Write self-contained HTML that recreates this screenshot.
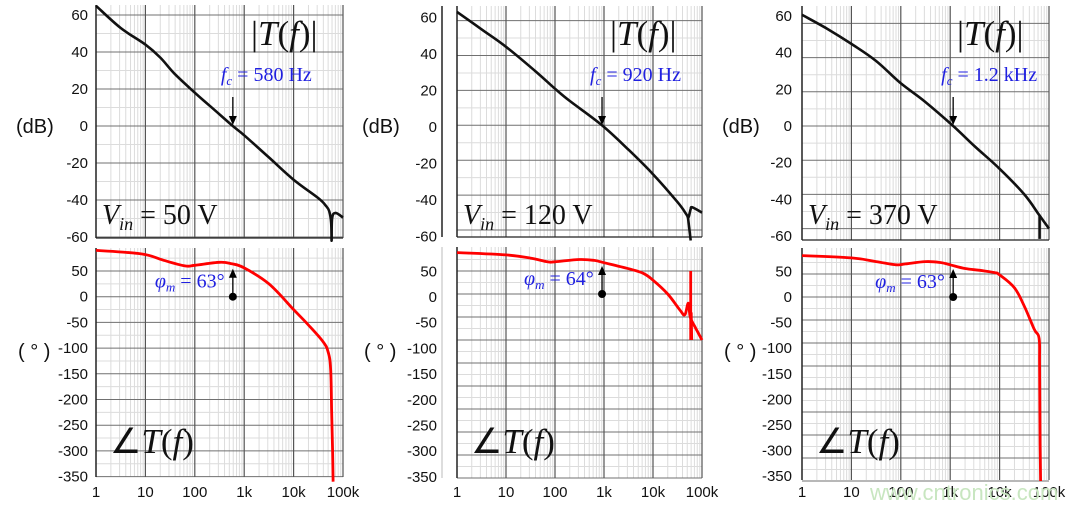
<!DOCTYPE html>
<html><head><meta charset="utf-8"><style>
html,body{margin:0;padding:0;background:#fff;}
svg{display:block;}
.ax{font-family:"Liberation Sans",sans-serif;font-size:15px;fill:#111;}
.ser{font-family:"Liberation Serif",serif;fill:#111;}
.blue{font-family:"Liberation Serif",serif;fill:#2020e0;}
</style></head><body>
<svg id="s" width="1080" height="511" xmlns="http://www.w3.org/2000/svg"></svg>
<script>
const S=document.getElementById('s');let h='';
const P=[
 {x0:96,dec:49.4,mT:5,mB:238,m0:126,m20:37,pT:248,pB:477,p0:296.7,p50:25.7,pl0:296.7,pl50:25.7,ml0:126,ml20:37,lx:88,fc:2.77,
  fcT:'580 Hz',vin:'50 V',phm:'63°',lbx:16,axis:false,
  mag:[[0,65],[0.5,53],[1,44],[1.3,37],[1.6,28],[2,18],[2.3,11],[2.77,0],[3,-5],[3.5,-17],[4,-29],[4.5,-39],[4.65,-43],[4.72,-46],[4.76,-52],[4.77,-62],[4.78,-50],[4.85,-47],[5,-49.5]],
  ph:[[0,90],[0.5,87],[1,82],[1.4,70],[1.8,60],[2,61],[2.5,67],[2.75,64],[3,56],[3.5,25],[4,-25],[4.3,-55],[4.6,-88],[4.7,-108],[4.75,-140],[4.77,-220],[4.79,-300],[4.8,-360]]},
 {x0:457,dec:49,mT:6,mB:237,m0:125.3,m20:34.9,pT:247,pB:478,p0:294,p50:23,pl0:297,pl50:25.7,ml0:127,ml20:36.5,lx:437,fc:2.96,
  fcT:'920 Hz',vin:'120 V',phm:'64°',lbx:362,axis:true,
  mag:[[0,65],[0.5,55],[1,45],[1.6,31],[2,21],[2.3,14],[2.96,0],[3.5,-14],[4,-28],[4.5,-44],[4.68,-51],[4.72,-53],[4.75,-50],[4.77,-48],[4.8,-47],[5,-50]],
  ph:[[0,90],[1,85],[1.5,78],[1.85,70],[2,70],[2.5,75],[2.8,73],[3,68],[3.5,55],[3.8,45],[4,30],[4.3,0],[4.55,-35],[4.65,-45],[4.72,-20],[4.76,-50],[4.85,-70],[5,-100]],
  extra:[[[4.71,-52],[4.77,-66]]], pextra:[[[4.77,50],[4.77,-100]],[[4.78,-40],[4.79,-100]]]},
 {x0:802,dec:49.4,mT:6,mB:240,m0:126,m20:34.2,pT:248,pB:480,p0:297,p50:23,pl0:297,pl50:25.6,ml0:126,ml20:36.7,lx:792,fc:3.06,
  fcT:'1.2 kHz',vin:'370 V',phm:'63°',lbx:722,axis:false,
  mag:[[0,65],[0.5,57],[1,48],[1.5,38],[2,25],[2.5,14],[3.06,0],[3.5,-12],[4,-25],[4.5,-40],[4.8,-52],[5,-60]],
  ph:[[0,90],[1,85],[1.5,77],[1.9,70],[2.1,72],[2.5,77],[2.8,75],[3,70],[3.3,62],[3.6,58],[3.9,53],[4,48],[4.3,20],[4.5,-20],[4.7,-70],[4.8,-90],[4.81,-150],[4.82,-320],[4.83,-400]],
  extra:[[[4.81,-52],[4.81,-66]]]}
];
const xs=['1','10','100','1k','10k','100k'];
function smooth(pts){
 let d=`M${pts[0][0].toFixed(1)},${pts[0][1].toFixed(1)}`;
 for(let i=0;i<pts.length-1;i++){
  const p0=pts[Math.max(0,i-1)],p1=pts[i],p2=pts[i+1],p3=pts[Math.min(pts.length-1,i+2)];
  const t=0.18;
  const c1=[p1[0]+(p2[0]-p0[0])*t,p1[1]+(p2[1]-p0[1])*t];
  const c2=[p2[0]-(p3[0]-p1[0])*t,p2[1]-(p3[1]-p1[1])*t];
  d+=` C${c1[0].toFixed(1)},${c1[1].toFixed(1)} ${c2[0].toFixed(1)},${c2[1].toFixed(1)} ${p2[0].toFixed(1)},${p2[1].toFixed(1)}`;
 }return d;}
P.forEach((p,i)=>{
 const X=l=>p.x0+l*p.dec, x1=X(5);
 const Ym=d=>p.m0-d/20*p.m20, Yp=d=>p.p0-d/50*p.p50;
 for(let d=0;d<5;d++)for(let k=2;k<10;k++){const x=X(d+Math.log10(k));
  h+=`<line x1="${x}" y1="${p.mT}" x2="${x}" y2="${p.mB}" stroke="#dcdcdc" stroke-width="1"/><line x1="${x}" y1="${p.pT}" x2="${x}" y2="${p.pB}" stroke="#dcdcdc" stroke-width="1"/>`;}
 for(let d=-70;d<=65;d+=10){const y=Ym(d);if(y>p.mT&&y<p.mB&&d%20)h+=`<line x1="${p.x0}" y1="${y}" x2="${x1}" y2="${y}" stroke="#dcdcdc"/>`;}
 for(let d=-375;d<=90;d+=25){const y=Yp(d);if(y>p.pT&&y<p.pB&&d%50)h+=`<line x1="${p.x0}" y1="${y}" x2="${x1}" y2="${y}" stroke="#dcdcdc"/>`;}
 for(let d=-60;d<=60;d+=20){const y=Ym(d);if(y>=p.mT&&y<=p.mB+1)h+=`<line x1="${p.x0}" y1="${y}" x2="${x1}" y2="${y}" stroke="#707070"/>`;}
 for(let d=-400;d<=50;d+=50){const y=Yp(d);if(y>=p.pT&&y<=p.pB+1)h+=`<line x1="${p.x0}" y1="${y}" x2="${x1}" y2="${y}" stroke="#707070"/>`;}
 for(let d=0;d<=5;d++){const x=X(d);h+=`<line x1="${x}" y1="${p.mT}" x2="${x}" y2="${p.mB}" stroke="${d==0?'#222':'#555'}" stroke-width="${d==0?1.5:1.2}"/><line x1="${x}" y1="${p.pT}" x2="${x}" y2="${p.pB}" stroke="${d==0?'#222':'#555'}" stroke-width="${d==0?1.5:1.2}"/>`;
  h+=`<text class="ax" x="${x}" y="497" text-anchor="middle">${xs[d]}</text>`;}
 h+=`<line x1="${p.x0}" y1="${p.mB}" x2="${x1}" y2="${p.mB}" stroke="#222" stroke-width="1.3"/>`;
 if(p.axis){const ax=p.x0-15;h+=`<line x1="${ax}" y1="${p.mT}" x2="${ax}" y2="${p.mB}" stroke="#222" stroke-width="1.5"/><line x1="${ax}" y1="${p.pT}" x2="${ax}" y2="${p.pB}" stroke="#bbb" stroke-width="1"/>`;}
 for(let d=-60;d<=60;d+=20)h+=`<text class="ax" x="${p.lx}" y="${p.ml0-d/20*p.ml20+5}" text-anchor="end">${d}</text>`;
 for(let d=-350;d<=50;d+=50)h+=`<text class="ax" x="${p.lx}" y="${p.pl0-d/50*p.pl50+5}" text-anchor="end">${d}</text>`;
 h+=`<text class="ax" x="${p.lbx}" y="133" style="font-size:20px">(dB)</text><text class="ax" x="${p.lbx+2}" y="358" style="font-size:20px">( ° )</text>`;
 const path=(pts,Y,c)=>`<path fill="none" stroke="${c}" stroke-width="${c=='#111'?2.6:2.8}" stroke-linejoin="round" d="${smooth(pts.map(q=>[X(q[0]),Y(q[1])]))}"/>`;
 h+=path(p.mag,Ym,'#111');(p.extra||[]).forEach(e=>h+=path(e,Ym,'#111'));
 h+=path(p.ph,Yp,'#f00');(p.pextra||[]).forEach(e=>h+=path(e,Yp,'#f00'));
 const fx=X(p.fc);
 h+=`<text class="ser" x="${x1-92}" y="45" style="font-size:35px">|<tspan font-style="italic">T</tspan>(<tspan font-style="italic">f</tspan>)|</text>`;
 h+=`<text class="blue" x="${fx-12}" y="81" style="font-size:20px"><tspan font-style="italic">f</tspan><tspan font-style="italic" font-size="13" dy="4">c</tspan><tspan dy="-4"> = ${p.fcT}</tspan></text>`;
 h+=`<line x1="${fx}" y1="97" x2="${fx}" y2="118" stroke="#000" stroke-width="1.3"/><polygon points="${fx-4},116 ${fx+4},116 ${fx},125" fill="#000"/>`;
 h+=`<text class="ser" x="${p.x0+6}" y="224" style="font-size:28px"><tspan font-style="italic">V</tspan><tspan font-style="italic" font-size="18" dy="6">in</tspan><tspan dy="-6"> = ${p.vin}</tspan></text>`;
 const z=Yp(0);
 h+=`<line x1="${fx}" y1="${z}" x2="${fx}" y2="${z-20}" stroke="#000" stroke-width="1.3"/><polygon points="${fx-4},${z-19} ${fx+4},${z-19} ${fx},${z-28}" fill="#000"/><circle cx="${fx}" cy="${z}" r="4" fill="#000"/>`;
 h+=`<text class="blue" x="${fx-78}" y="${z-9}" style="font-size:20px"><tspan font-style="italic">φ</tspan><tspan font-style="italic" font-size="13" dy="4">m</tspan><tspan dy="-4"> = ${p.phm}</tspan></text>`;
 h+=`<text class="ser" x="${p.x0+14}" y="453" style="font-size:35px">∠<tspan font-style="italic">T</tspan>(<tspan font-style="italic">f</tspan>)</text>`;
});
h+=`<text x="870" y="500" style="font-family:'Liberation Sans',sans-serif;font-size:22px;fill:#c8e6c0">www.cntronics.com</text>`;
S.innerHTML=h;
</script>
</body></html>
